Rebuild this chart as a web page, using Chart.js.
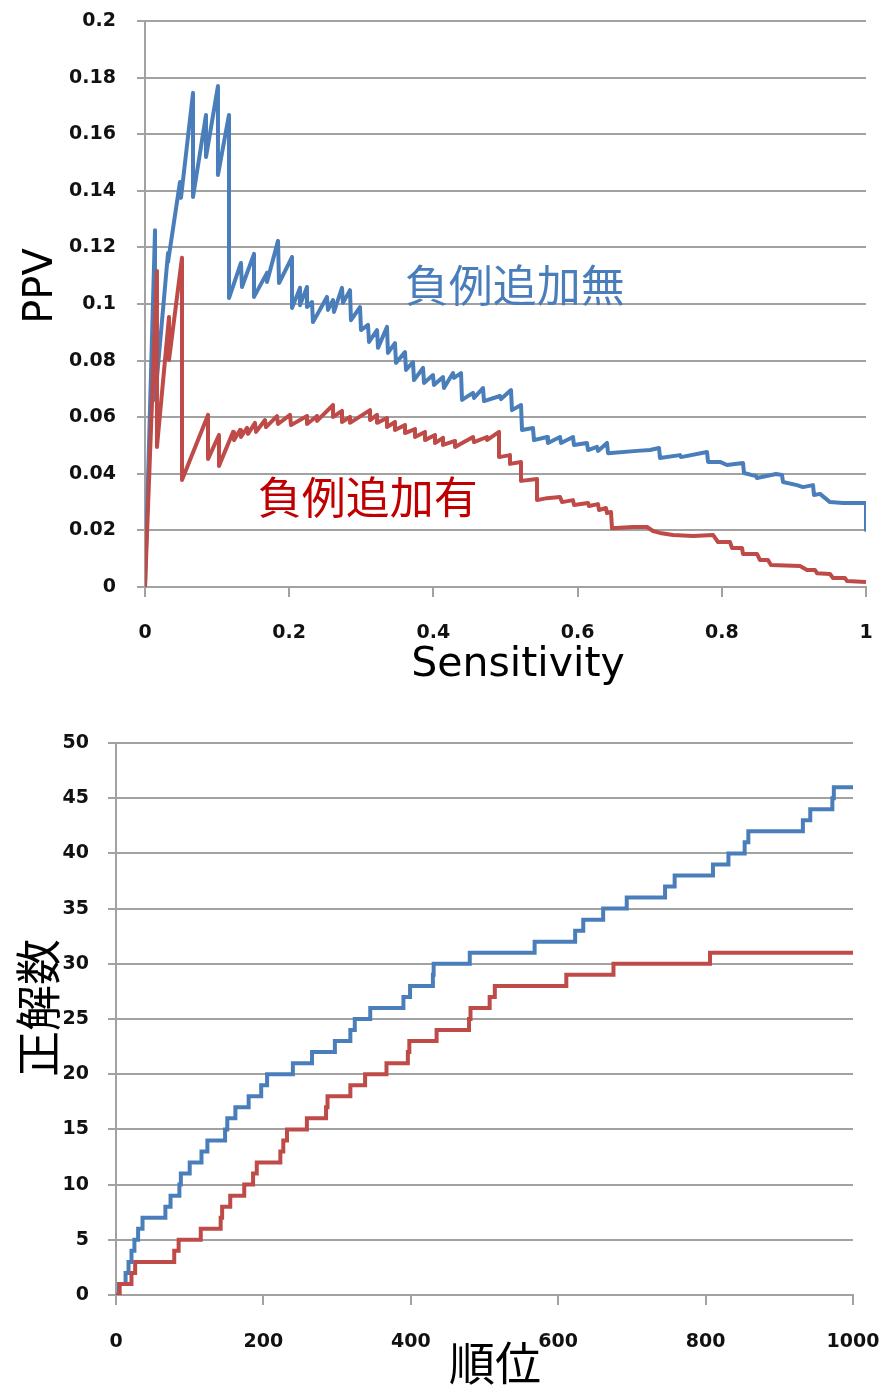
<!DOCTYPE html>
<html lang="ja">
<head>
<meta charset="utf-8">
<title>PPV と正解数</title>
<script src="https://cdn.jsdelivr.net/npm/chart.js@4.4.1/dist/chart.umd.min.js"></script>
<style>
  html, body { margin: 0; padding: 0; background: #fff; }
  #wrap { position: relative; width: 883px; height: 1389px; overflow: hidden; }
  canvas { position: absolute; left: 0; }
</style>
</head>
<body>
<div id="wrap">
  <canvas id="ppvChart" width="883" height="700" style="top:0"></canvas>
  <canvas id="hitChart" width="883" height="689" style="top:700px"></canvas>
</div>
<script>
// ---- PPV vs Sensitivity: 負例追加無 (without added negatives) ----
const noNegSens = [
  0, 0.0139, 0.0139, 0.0319, 0.0319, 0.0485, 0.0499, 0.0666, 0.0666, 0.0846,
  0.0846, 0.1012, 0.1012, 0.1165, 0.1165, 0.1331, 0.1345, 0.1512, 0.1512, 0.1692,
  0.1692, 0.1845, 0.1859, 0.2039, 0.2039, 0.2150, 0.2150, 0.2247, 0.2247, 0.2316,
  0.2330, 0.2524,
  0.2538, 0.2607, 0.2621, 0.2732, 0.2746, 0.2843, 0.2857, 0.2982, 0.2996, 0.3093,
  0.3107, 0.3218, 0.3232, 0.3356, 0.3370, 0.3467, 0.3481, 0.3606, 0.3620, 0.3717,
  0.3731, 0.3856, 0.3870, 0.3994, 0.4008, 0.4133, 0.4147, 0.4272, 0.4286, 0.4383,
  0.4397, 0.4549, 0.4563, 0.4688, 0.4702, 0.4924, 0.4938, 0.5076, 0.5090, 0.5215,
  0.5229, 0.5381, 0.5395, 0.5576, 0.5589, 0.5756, 0.5770, 0.5936, 0.5950, 0.6130,
  0.6144, 0.6269, 0.6283, 0.6408, 0.6422, 0.6824, 0.7004, 0.7129, 0.7143, 0.7420,
  0.7434, 0.7795, 0.7809, 0.7975, 0.8072, 0.8294, 0.8308, 0.8474, 0.8488, 0.8752,
  0.8835, 0.8849, 0.9043, 0.9126, 0.9265, 0.9279, 0.9362, 0.9501, 0.9681, 0.9875,
  1.0, 1.0
];
const noNegPpv = [
  0, 0.1261, 0.0661, 0.1180, 0.1148, 0.1431, 0.1375, 0.1746, 0.1378, 0.1668,
  0.1519, 0.1770, 0.1456, 0.1668, 0.1021, 0.1145, 0.1060, 0.1177, 0.1025, 0.1110,
  0.1078, 0.1223, 0.1074, 0.1166, 0.0986, 0.1057, 0.0996, 0.1060, 0.0989, 0.1007,
  0.0936, 0.1025,
  0.0979, 0.1014, 0.0972, 0.1057, 0.1004, 0.1049, 0.0943, 0.0989, 0.0908, 0.0926,
  0.0866, 0.0908, 0.0845, 0.0919, 0.0827, 0.0862, 0.0792, 0.0830, 0.0767, 0.0795,
  0.0731, 0.0774, 0.0721, 0.0749, 0.0714, 0.0742, 0.0703, 0.0756, 0.0739, 0.0756,
  0.0661, 0.0686, 0.0668, 0.0703, 0.0657, 0.0675, 0.0664, 0.0696, 0.0625, 0.0643,
  0.0555, 0.0562, 0.0519, 0.0530, 0.0509, 0.0530, 0.0509, 0.0530, 0.0502, 0.0509,
  0.0484, 0.0495, 0.0481, 0.0509, 0.0473, 0.0481, 0.0484, 0.0491, 0.0456, 0.0466,
  0.0459, 0.0477, 0.0442, 0.0442, 0.0431, 0.0438, 0.0403, 0.0392, 0.0385, 0.0399,
  0.0396, 0.0371, 0.0360, 0.0353, 0.0360, 0.0325, 0.0329, 0.0300, 0.0297, 0.0297,
  0.0297, 0.0201
];

// ---- PPV vs Sensitivity: 負例追加有 (with added negatives) ----
const withNegSens = [
  0, 0.0166, 0.0166, 0.0333, 0.0333, 0.0513, 0.0513, 0.0874, 0.0874, 0.1026,
  0.1026, 0.1221, 0.1234, 0.1318, 0.1331, 0.1415, 0.1429, 0.1526, 0.1540, 0.1664,
  0.1678, 0.1831, 0.1845, 0.2011, 0.2025, 0.2247, 0.2247, 0.2386, 0.2386, 0.2608,
  0.2608, 0.2732, 0.2732, 0.2843, 0.2843, 0.3121, 0.3121, 0.3218, 0.3218, 0.3356,
  0.3356, 0.3467, 0.3467, 0.3606, 0.3606, 0.3745, 0.3745, 0.3883, 0.3883, 0.4022,
  0.4022, 0.4133, 0.4133, 0.4300, 0.4300, 0.4549, 0.4563, 0.4743, 0.4743, 0.4910,
  0.4910, 0.5062, 0.5062, 0.5215, 0.5215, 0.5437, 0.5437, 0.5576, 0.5756, 0.5784,
  0.5936, 0.5950, 0.6144, 0.6158, 0.6283, 0.6297, 0.6394, 0.6408, 0.6463, 0.6477,
  0.6768, 0.6963, 0.7046, 0.7143, 0.7323, 0.7601, 0.7878, 0.7947, 0.8114, 0.8141,
  0.8280, 0.8294, 0.8488, 0.8530, 0.8641, 0.8682, 0.9085, 0.9182, 0.9293, 0.9320,
  0.9501, 0.9542, 0.9709, 0.9736, 1.0
];
const withNegPpv = [
  0, 0.1117, 0.0495, 0.0954, 0.0802, 0.1163, 0.0378, 0.0608, 0.0452, 0.0537,
  0.0428, 0.0548, 0.0519, 0.0555, 0.0530, 0.0562, 0.0541, 0.0580, 0.0548, 0.0590,
  0.0565, 0.0604, 0.0576, 0.0608, 0.0572, 0.0604, 0.0576, 0.0604, 0.0587, 0.0643,
  0.0601, 0.0622, 0.0583, 0.0601, 0.0580, 0.0625, 0.0590, 0.0608, 0.0580, 0.0597,
  0.0565, 0.0583, 0.0555, 0.0572, 0.0544, 0.0558, 0.0530, 0.0548, 0.0519, 0.0537,
  0.0509, 0.0527, 0.0502, 0.0516, 0.0495, 0.0530, 0.0512, 0.0530, 0.0519, 0.0548,
  0.0459, 0.0466, 0.0435, 0.0442, 0.0375, 0.0382, 0.0307, 0.0314, 0.0318, 0.0300,
  0.0307, 0.0290, 0.0297, 0.0286, 0.0293, 0.0272, 0.0279, 0.0261, 0.0265, 0.0208,
  0.0212, 0.0212, 0.0198, 0.0191, 0.0184, 0.0180, 0.0184, 0.0159, 0.0159, 0.0138,
  0.0138, 0.0117, 0.0117, 0.0095, 0.0095, 0.0078, 0.0074, 0.0060, 0.0060, 0.0049,
  0.0046, 0.0032, 0.0032, 0.0021, 0.0018
];

// ---- 正解数 vs 順位 (cumulative correct answers by rank) ----
const noNegRanks = [
  0, 4, 13, 17, 21, 25, 30, 36, 67, 74, 86, 88, 100, 116, 124, 148, 151, 162,
  180, 197, 205, 240, 266, 297, 318, 324, 345, 390, 399, 430, 431, 480, 568,
  623, 634, 661, 693, 745, 758, 810, 831, 853, 858, 932, 942, 972, 974, 1000
];
const noNegHits = [
  0, 1, 2, 3, 4, 5, 6, 7, 8, 9, 10, 11, 12, 13, 14, 15, 16, 17,
  18, 19, 20, 21, 22, 23, 24, 25, 26, 27, 28, 29, 30, 31, 32,
  33, 34, 35, 36, 37, 38, 39, 40, 41, 42, 43, 44, 45, 46, 46
];
const withNegRanks = [
  0, 5, 21, 26, 79, 85, 115, 142, 144, 155, 174, 186, 191, 223, 227, 232,
  259, 285, 287, 318, 338, 367, 396, 398, 435, 479, 481, 507, 514, 611, 675,
  806, 1000
];
const withNegHits = [
  0, 1, 2, 3, 4, 5, 6, 7, 8, 9, 10, 11, 12, 13, 14, 15,
  16, 17, 18, 19, 20, 21, 22, 23, 24, 25, 26, 27, 28, 29, 30,
  31, 31
];

// ---- axis ticks ----
const sensTicks = [0, 0.2, 0.4, 0.6, 0.8, 1];
const sensTickLabels = ['0', '0.2', '0.4', '0.6', '0.8', '1'];
const ppvTicks = [0, 0.02, 0.04, 0.06, 0.08, 0.1, 0.12, 0.14, 0.16, 0.18, 0.2];
const ppvTickLabels = ['0', '0.02', '0.04', '0.06', '0.08', '0.1', '0.12', '0.14', '0.16', '0.18', '0.2'];
const rankTicks = [0, 200, 400, 600, 800, 1000];
const rankTickLabels = ['0', '200', '400', '600', '800', '1000'];
const hitTicks = [0, 5, 10, 15, 20, 25, 30, 35, 40, 45, 50];
const hitTickLabels = ['0', '5', '10', '15', '20', '25', '30', '35', '40', '45', '50'];

// ---- styling ----
const BLUE = '#4a7ebb';
const RED = '#be4b48';
const GRID = '#a2a2a2';
const LINE_W = 4;
const TICK_FONT = { family: '"DejaVu Sans", Verdana, sans-serif', size: 19, weight: 'bold' };
const LATIN = '"DejaVu Sans", Verdana, sans-serif';
const CJK = '"Noto Sans CJK JP", "Noto Sans CJK SC", sans-serif';

const zip = (xs, ys) => xs.map((x, i) => ({ x, y: ys[i] }));

// Draws axis captions and series labels as canvas text.
const captionPlugin = {
  id: 'captions',
  afterDatasetsDraw(chart, args, opts) {
    const ctx = chart.ctx;
    (opts.items || []).forEach(it => {
      let px = it.x, py = it.y;
      if (it.data) {
        px = chart.scales.x.getPixelForValue(it.x);
        py = chart.scales.y.getPixelForValue(it.y);
      }
      ctx.save();
      ctx.font = it.font;
      ctx.fillStyle = it.color;
      ctx.textAlign = 'center';
      ctx.textBaseline = 'middle';
      ctx.translate(px, py);
      if (it.rotate) ctx.rotate(it.rotate);
      ctx.fillText(it.text, 0, 0);
      ctx.restore();
    });
  }
};

function fixedTicks(values, labels) {
  return {
    afterBuildTicks: s => { s.ticks = values.map(v => ({ value: v })); },
    ticks: {
      autoSkip: false,
      font: TICK_FONT,
      color: '#111',
      callback: (v, i) => labels[i]
    }
  };
}

// The plot box is set by the layout padding alone, so label overhang is ignored.
function axisX(values, labels, min, max, height, pad) {
  const t = fixedTicks(values, labels);
  return {
    type: 'linear', min, max,
    afterBuildTicks: t.afterBuildTicks,
    afterFit: s => { s.height = height; s.paddingLeft = 0; s.paddingRight = 0; s.paddingTop = 0; s.paddingBottom = 0; },
    ticks: Object.assign(t.ticks, { padding: pad, maxRotation: 0 }),
    grid: { drawOnChartArea: false, drawTicks: true, tickLength: 10, color: GRID, lineWidth: 2 },
    border: { display: true, color: GRID, width: 2 }
  };
}

function axisY(values, labels, min, max, width, pad) {
  const t = fixedTicks(values, labels);
  return {
    type: 'linear', min, max,
    afterBuildTicks: t.afterBuildTicks,
    afterFit: s => { s.width = width; s.paddingLeft = 0; s.paddingRight = 0; s.paddingTop = 0; s.paddingBottom = 0; },
    ticks: Object.assign(t.ticks, { padding: pad }),
    grid: { color: GRID, lineWidth: 2, drawTicks: true, tickLength: 8 },
    border: { display: true, color: GRID, width: 2 }
  };
}

Chart.defaults.font.family = LATIN;

new Chart(document.getElementById('ppvChart'), {
  type: 'line',
  data: {
    datasets: [
      {
        label: '負例追加有',
        data: zip(withNegSens, withNegPpv),
        borderColor: RED, borderWidth: LINE_W, borderJoinStyle: 'round',
        pointRadius: 0, tension: 0, fill: false
      },
      {
        label: '負例追加無',
        data: zip(noNegSens, noNegPpv),
        borderColor: BLUE, borderWidth: LINE_W, borderJoinStyle: 'round',
        pointRadius: 0, tension: 0, fill: false
      }
    ]
  },
  options: {
    responsive: false,
    animation: false,
    layout: { padding: { top: 21, right: 17, bottom: 0, left: 0 } },
    scales: {
      x: axisX(sensTicks, sensTickLabels, 0, 1, 113, 25),
      y: axisY(ppvTicks, ppvTickLabels, 0, 0.2, 145, 21)
    },
    plugins: {
      legend: { display: false },
      tooltip: { enabled: false },
      captions: {
        items: [
          { text: 'PPV', x: 42, y: 286, rotate: -Math.PI / 2, font: '40px ' + LATIN, color: '#000' },
          { text: 'Sensitivity', x: 518, y: 665, font: '41px ' + LATIN, color: '#000' },
          { text: '負例追加無', data: true, x: 0.513, y: 0.1067, font: '44px ' + CJK, color: BLUE },
          { text: '負例追加有', data: true, x: 0.309, y: 0.0318, font: '44px ' + CJK, color: '#c00000' }
        ]
      }
    }
  },
  plugins: [captionPlugin]
});

new Chart(document.getElementById('hitChart'), {
  type: 'line',
  data: {
    datasets: [
      {
        label: '負例追加有',
        data: zip(withNegRanks, withNegHits),
        borderColor: RED, borderWidth: LINE_W, stepped: 'before',
        pointRadius: 0, fill: false
      },
      {
        label: '負例追加無',
        data: zip(noNegRanks, noNegHits),
        borderColor: BLUE, borderWidth: LINE_W, stepped: 'before',
        pointRadius: 0, fill: false
      }
    ]
  },
  options: {
    responsive: false,
    animation: false,
    layout: { padding: { top: 43, right: 30, bottom: 0, left: 0 } },
    scales: {
      x: axisX(rankTicks, rankTickLabels, 0, 1000, 94, 26),
      y: axisY(hitTicks, hitTickLabels, 0, 50, 116, 19)
    },
    plugins: {
      legend: { display: false },
      tooltip: { enabled: false },
      captions: {
        items: [
          { text: '正解数', x: 38, y: 308, rotate: -Math.PI / 2, font: '46px ' + CJK, color: '#000' },
          { text: '順位', x: 495, y: 663, font: '46px ' + CJK, color: '#000' }
        ]
      }
    }
  },
  plugins: [captionPlugin]
});
</script>
</body>
</html>
